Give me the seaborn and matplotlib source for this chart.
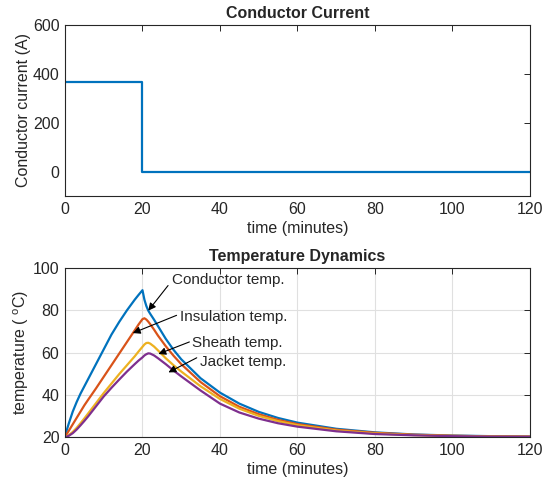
import numpy as np
import pandas as pd
import seaborn as sns
import matplotlib
matplotlib.use("Agg")
import matplotlib.pyplot as plt

# conductor current step
current_time = [0, 20, 120]
current_amps = [365, 0, 0]

# temperature dynamics (minutes, degC)
time_min = [0, 0.5, 1, 2, 3, 4, 5, 6, 8, 10, 12, 14, 16, 18, 19, 20, 20.5, 21, 21.5, 22, 23,
            24, 26, 28, 30, 35, 40, 45, 50, 55, 60, 70, 80, 90, 100, 110, 120]
conductor_temp = [20, 23.5, 26.5, 32, 36.5, 40.5, 44, 47.5, 54.5, 61.5, 68.5, 74.5, 80, 85, 87.3, 89.5,
                  85, 82, 79.8, 78.3, 75.5, 72.5, 66.5, 61.3, 56.8, 47.8, 41, 35.8, 31.9, 29,
                  26.8, 23.9, 22.2, 21.2, 20.7, 20.4, 20.2]
insulation_temp = [20, 21.5, 23, 26, 29, 32, 35, 37.7, 43, 48.5, 54, 59.5, 65, 70.5, 73.3, 75.8,
                   76.2, 75.6, 74.6, 73.4, 70.8, 68, 63, 58.5, 54.5, 46, 39.3, 34.3, 30.8, 28.1,
                   26.1, 23.5, 22, 21.1, 20.6, 20.3, 20.2]
sheath_temp = [20, 20.3, 20.9, 22.4, 24.3, 26.5, 28.8, 31.2, 36, 40.8, 45.3, 49.8, 54, 58.2, 60.5, 62.7,
               63.8, 64.5, 64.6, 64.2, 62.8, 61, 57.3, 54, 51, 44, 38, 33.4, 30, 27.5,
               25.6, 23.1, 21.7, 20.9, 20.5, 20.3, 20.1]
jacket_temp = [20, 20.2, 20.6, 21.8, 23.5, 25.5, 27.6, 29.8, 34.5, 39.2, 43.3, 47.2, 51, 54.5, 56.2, 57.7,
               58.6, 59.2, 59.6, 59.5, 58.6, 57.3, 54.5, 51.5, 48.7, 42, 35.8, 31.6, 28.7, 26.5,
               24.9, 22.7, 21.4, 20.8, 20.4, 20.2, 20.1]

series_names = ["Conductor temp.", "Insulation temp.", "Sheath temp.", "Jacket temp."]
colors = ["#0072BD", "#D95319", "#EDB120", "#7E2F8E"]

# annotation text (left, middle), arrow tail and arrow head, (time, temp)
text_pos = [(27.6, 94.3), (29.7, 77.0), (32.7, 64.5), (34.8, 55.6)]
arrow_tail = [(26.6, 91.7), (28.8, 77.6), (32.1, 65.0), (34.0, 57.5)]
arrow_tip = [(21.5, 79.8), (17.5, 69.2), (24.1, 59.3), (26.7, 50.6)]

sns.set_style("white")
plt.rcParams["font.family"] = ["Liberation Sans", "DejaVu Sans"]
plt.rcParams["mathtext.fontset"] = "custom"
plt.rcParams["mathtext.rm"] = "Liberation Sans"
plt.rcParams["mathtext.it"] = "Liberation Sans"

dark = "#262626"
fs = 11.5

fig = plt.figure(figsize=(5.53, 4.88), dpi=100)
ax1 = fig.add_axes([0.1175, 0.5984, 0.8409, 0.3504])
ax2 = fig.add_axes([0.1175, 0.1045, 0.8409, 0.3463])

# top: current
sns.lineplot(x=current_time, y=current_amps, ax=ax1, color=colors[0], linewidth=1.6,
             drawstyle="steps-post", sort=False, estimator=None)
ax1.set_xlim(0, 120)
ax1.set_ylim(-100, 600)
ax1.set_xticks(range(0, 121, 20))
ax1.set_yticks([0, 200, 400, 600])
ax1.set_title("Conductor Current", fontsize=fs, fontweight="bold", pad=5)
ax1.set_xlabel("time (minutes)", fontsize=fs, color=dark, labelpad=3)
ax1.set_ylabel("Conductor current (A)", fontsize=fs, color=dark, labelpad=1)

# bottom: temperatures
df = pd.DataFrame({"time": time_min * 4,
                   "temp": conductor_temp + insulation_temp + sheath_temp + jacket_temp,
                   "series": np.repeat(series_names, len(time_min))})
sns.lineplot(data=df, x="time", y="temp", hue="series", palette=colors, ax=ax2,
             linewidth=1.6, legend=False, estimator=None)
ax2.set_xlim(0, 120)
ax2.set_ylim(20, 100)
ax2.set_xticks(range(0, 121, 20))
ax2.set_yticks(range(20, 101, 20))
ax2.grid(True, color="#e0e0e0", linewidth=0.8)
ax2.set_axisbelow(True)
ax2.set_title("Temperature Dynamics", fontsize=fs, fontweight="bold", pad=5)
ax2.set_xlabel("time (minutes)", fontsize=fs, color=dark, labelpad=3)
ax2.set_ylabel("temperature ( $^\\mathrm{o}$C)", fontsize=fs, color=dark, labelpad=1)

for name, tp, tail, tip in zip(series_names, text_pos, arrow_tail, arrow_tip):
    ax2.text(tp[0], tp[1], name, fontsize=11, color=dark, ha="left", va="center")
    ax2.annotate("", xy=tip, xytext=tail,
                 arrowprops=dict(arrowstyle="-|>", color="black", lw=0.8,
                                 mutation_scale=11, shrinkA=0, shrinkB=0))

for ax in (ax1, ax2):
    for s in ax.spines.values():
        s.set_color(dark)
        s.set_linewidth(0.8)
    ax.tick_params(direction="in", length=4, width=0.7, colors=dark, labelsize=fs,
                   top=True, right=True, pad=4)

fig.savefig("out.png", dpi=100)
